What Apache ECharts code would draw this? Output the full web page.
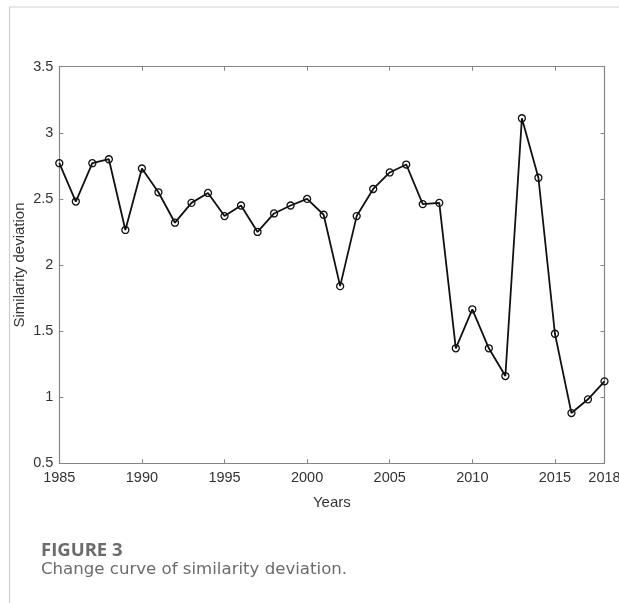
<!DOCTYPE html>
<html>
<head>
<meta charset="utf-8">
<script src="https://cdn.jsdelivr.net/npm/echarts@6/dist/echarts.min.js"></script>
<style>
  html, body { margin: 0; padding: 0; background: #fff; }
  #chart { width: 619px; height: 603px; }
</style>
</head>
<body>
<div id="chart"></div>
<script>
const years = [
  1985, 1986, 1987, 1988, 1989, 1990, 1991, 1992, 1993, 1994, 1995, 1996,
  1997, 1998, 1999, 2000, 2001, 2002, 2003, 2004, 2005, 2006, 2007, 2008,
  2009, 2010, 2011, 2012, 2013, 2014, 2015, 2016, 2017, 2018,
];
const deviation = [
  2.77, 2.48, 2.77, 2.8, 2.265, 2.73, 2.55, 2.32, 2.47, 2.545, 2.37, 2.45,
  2.25, 2.39, 2.45, 2.5, 2.38, 1.84, 2.37, 2.575, 2.7, 2.76, 2.46, 2.47,
  1.37, 1.665, 1.37, 1.16, 3.11, 2.66, 1.48, 0.88, 0.984, 1.12,
];
const xTicks = [1985, 1990, 1995, 2000, 2005, 2010, 2015, 2018];

const chart = echarts.init(document.getElementById("chart"), null, { renderer: "canvas" });

const axisGray = "#858585";
const textColor = "#333";
const axisFont = "Arial, 'Liberation Sans', sans-serif";

const xBase = {
  type: "value",
  min: 1985,
  max: 2018,
  axisLine: { show: true, lineStyle: { color: axisGray, width: 1.2 } },
  axisTick: { show: true, inside: true, length: 4, customValues: xTicks, lineStyle: { color: axisGray } },
  splitLine: { show: false },
};
const yBase = {
  type: "value",
  min: 0.5,
  max: 3.5,
  interval: 0.5,
  axisLine: { show: true, lineStyle: { color: axisGray, width: 1.2 } },
  axisTick: { show: true, inside: true, length: 4, lineStyle: { color: axisGray } },
  splitLine: { show: false },
};

chart.setOption({
  backgroundColor: "#fff",
  animation: false,
  grid: { left: 59.3, right: 14.5, top: 66.7, bottom: 139.7, outerBoundsMode: "none" },
  xAxis: [
    {
      ...xBase,
      position: "bottom",
      name: "Years",
      nameLocation: "middle",
      nameGap: 32,
      nameTextStyle: { fontFamily: axisFont, fontSize: 15, color: textColor },
      axisLabel: {
        customValues: xTicks,
        formatter: (v) => String(v),
        margin: 7,
        fontFamily: axisFont,
        fontSize: 14.5,
        color: textColor,
      },
    },
    {
      ...xBase,
      position: "top",
      axisLabel: { show: false },
    },
  ],
  yAxis: [
    {
      ...yBase,
      position: "left",
      name: "Similarity deviation",
      nameLocation: "middle",
      nameGap: 32,
      nameMoveOverlap: false,
      nameTextStyle: { fontFamily: axisFont, fontSize: 15, color: textColor },
      axisLabel: {
        margin: 6,
        fontFamily: axisFont,
        fontSize: 14.5,
        color: textColor,
      },
    },
    {
      ...yBase,
      position: "right",
      axisLabel: { show: false },
    },
  ],
  series: [
    {
      type: "line",
      xAxisIndex: 0,
      yAxisIndex: 0,
      data: years.map((y, i) => [y, deviation[i]]),
      symbol: "circle",
      symbolSize: 7,
      showAllSymbol: true,
      lineStyle: { color: "#111", width: 1.8 },
      itemStyle: { color: "rgba(255,255,255,0)", borderColor: "#111", borderWidth: 1.3 },
    },
  ],
  graphic: [
    {
      type: "line",
      shape: { x1: 9.5, y1: 7, x2: 619, y2: 7 },
      style: { stroke: "#cfcfcf", lineWidth: 1.2 },
    },
    {
      type: "line",
      shape: { x1: 9.5, y1: 7, x2: 9.5, y2: 603 },
      style: { stroke: "#cfcfcf", lineWidth: 1.2 },
    },
    {
      type: "text",
      left: 41,
      top: 541,
      style: {
        text: "FIGURE 3",
        font: "bold 18.5px 'Open Sans'",
        fill: "#6b6b6b",
      },
    },
    {
      type: "text",
      left: 41,
      top: 561,
      style: {
        text: "Change curve of similarity deviation.",
        font: "16.6px 'DejaVu Sans'",
        fill: "#6b6b6b",
      },
    },
  ],
});
</script>
</body>
</html>
